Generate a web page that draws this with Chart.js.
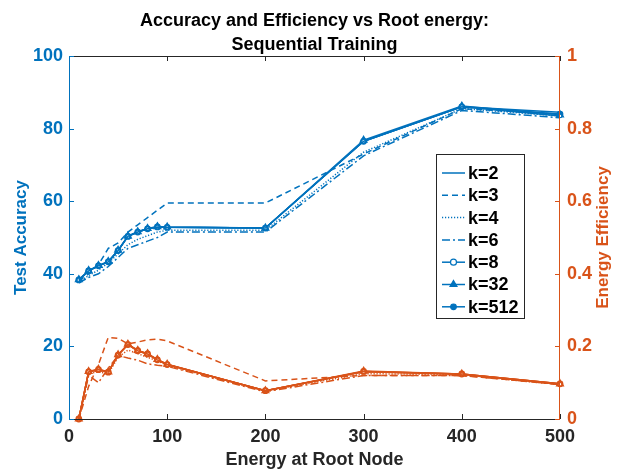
<!DOCTYPE html>
<html>
<head>
<meta charset="utf-8">
<script src="https://cdn.jsdelivr.net/npm/chart.js@4/dist/chart.umd.min.js"></script>
<style>
  html, body { margin: 0; padding: 0; background: #fff; }
  #wrap { width: 618px; height: 471px; position: relative; }
</style>
</head>
<body>
<div id="wrap"><canvas id="c" width="618" height="471"></canvas></div>
<script>
// ---------- data ----------
const energy = [10, 20, 30, 40, 50, 60, 70, 80, 90, 100, 200, 300, 400, 500];
const kLabels = ['k=2', 'k=3', 'k=4', 'k=6', 'k=8', 'k=32', 'k=512'];
const xTickValues = [0, 100, 200, 300, 400, 500];

// Test accuracy (left axis, %)
const accK2   = [38.3, 40.8, 42.2, 43.3, 46.4, 50.3, 51.5, 52.4, 52.9, 52.8, 52.6, 76.5, 86.0, 84.5];
const accK3   = [38.0, 40.0, 42.5, 47.0, 48.5, 51.5, 53.5, 55.5, 57.5, 59.5, 59.5, 73.0, 85.5, 84.0];
const accK4   = [37.8, 39.5, 41.0, 43.0, 45.5, 48.0, 49.5, 50.5, 51.5, 52.0, 52.0, 73.5, 85.5, 83.5];
const accK6   = [37.5, 39.0, 40.0, 42.0, 44.5, 47.0, 48.0, 49.0, 50.0, 51.5, 51.5, 72.5, 85.0, 83.0];
const accK8   = [38.3, 40.8, 42.2, 43.3, 46.4, 50.3, 51.5, 52.4, 52.9, 52.8, 52.6, 76.5, 86.0, 83.5];
const accK32  = [38.4, 40.9, 42.3, 43.4, 46.5, 50.4, 51.6, 52.5, 53.0, 52.9, 52.6, 76.8, 86.2, 83.8];
const accK512 = [38.3, 40.8, 42.2, 43.3, 46.4, 50.3, 51.5, 52.4, 52.9, 52.8, 52.6, 76.5, 86.0, 84.0];

// Energy efficiency (right axis)
const effK2   = [0, 0.130, 0.136, 0.129, 0.176, 0.205, 0.188, 0.179, 0.163, 0.150, 0.078, 0.131, 0.124, 0.097];
const effK3   = [0, 0.090, 0.150, 0.225, 0.222, 0.207, 0.212, 0.218, 0.220, 0.215, 0.105, 0.120, 0.120, 0.095];
const effK4   = [0, 0.125, 0.130, 0.125, 0.170, 0.190, 0.180, 0.170, 0.160, 0.148, 0.077, 0.125, 0.122, 0.095];
const effK6   = [0, 0.120, 0.100, 0.140, 0.175, 0.168, 0.162, 0.152, 0.148, 0.145, 0.075, 0.120, 0.120, 0.095];
const effK8   = [0, 0.130, 0.136, 0.129, 0.176, 0.205, 0.188, 0.179, 0.163, 0.150, 0.078, 0.130, 0.123, 0.096];
const effK32  = [0, 0.131, 0.137, 0.130, 0.177, 0.206, 0.189, 0.180, 0.164, 0.151, 0.078, 0.132, 0.124, 0.097];
const effK512 = [0, 0.130, 0.136, 0.129, 0.176, 0.205, 0.188, 0.179, 0.163, 0.150, 0.078, 0.131, 0.124, 0.097];

const accSeries = [accK2, accK3, accK4, accK6, accK8, accK32, accK512];
const effSeries = [effK2, effK3, effK4, effK6, effK8, effK32, effK512];

// ---------- styles ----------
const BLUE = '#0072BD';
const ORANGE = '#D95319';
const AXIS = '#262626';
const FONT = "'Liberation Sans', Arial, sans-serif";
const dashes = [[], [6, 4], [1.2, 1.8], [8, 3, 2, 3], [], [], []];
const pStyles = ['circle', 'circle', 'circle', 'circle', 'circle', 'triangle', 'circle'];
const pRadius = [0, 0, 0, 0, 1.8, 4, 2.8];
const legRadius = [0, 0, 0, 0, 3, 4, 2.8];
const pFilled = [false, false, false, false, false, true, true];

function toPts(arr) { return energy.map((e, i) => ({ x: e, y: arr[i] })); }

function makeSet(label, arr, i, color, axis) {
  return {
    label: label,
    data: toPts(arr),
    yAxisID: axis,
    borderColor: color,
    backgroundColor: color,
    borderWidth: 1.5,
    borderDash: dashes[i],
    pointStyle: pStyles[i],
    pointRadius: pRadius[i],
    pointHoverRadius: pRadius[i],
    pointBorderColor: color,
    pointBackgroundColor: pFilled[i] ? color : '#ffffff',
    pointBorderWidth: 1.2,
    tension: 0,
    fill: false,
    clip: false
  };
}

const datasets = [];
kLabels.forEach((k, i) => datasets.push(makeSet(k, accSeries[i], i, BLUE, 'y')));
kLabels.forEach((k, i) => datasets.push(makeSet(k, effSeries[i], i, ORANGE, 'y1')));

// ---------- plugin: title, axes box, inward ticks, legend ----------
const decor = {
  id: 'decor',
  afterDraw(chart) {
    const ctx = chart.ctx;
    const a = chart.chartArea;
    const xs = chart.scales.x, ys = chart.scales.y, y1 = chart.scales.y1;
    ctx.save();
    // title
    ctx.fillStyle = '#000';
    ctx.font = 'bold 18px ' + FONT;
    ctx.textAlign = 'center';
    ctx.textBaseline = 'middle';
    const cx = (a.left + a.right) / 2;
    ctx.fillText('Accuracy and Efficiency vs Root energy:', cx, 21);
    ctx.fillText('Sequential Training', cx, 45);

    // right axis title (reads bottom to top)
    ctx.save();
    ctx.translate(603, (a.top + a.bottom) / 2);
    ctx.rotate(-Math.PI / 2);
    ctx.fillStyle = ORANGE;
    ctx.font = 'bold 17px ' + FONT;
    ctx.fillText('Energy Efficiency', 0, 0);
    ctx.restore();

    // box
    ctx.lineWidth = 1;
    ctx.setLineDash([]);
    ctx.strokeStyle = AXIS;
    ctx.beginPath();
    ctx.moveTo(a.left, a.top + 0.5); ctx.lineTo(a.right, a.top + 0.5);
    ctx.moveTo(a.left, a.bottom + 0.5); ctx.lineTo(a.right, a.bottom + 0.5);
    xTickValues.forEach(v => {
      const px = Math.round(xs.getPixelForValue(v)) + 0.5;
      ctx.moveTo(px, a.bottom); ctx.lineTo(px, a.bottom - 5);
      ctx.moveTo(px, a.top); ctx.lineTo(px, a.top + 5);
    });
    ctx.stroke();

    ctx.strokeStyle = BLUE;
    ctx.beginPath();
    ctx.moveTo(a.left + 0.5, a.top); ctx.lineTo(a.left + 0.5, a.bottom + 1);
    ys.ticks.forEach(t => {
      const py = Math.round(ys.getPixelForValue(t.value)) + 0.5;
      ctx.moveTo(a.left, py); ctx.lineTo(a.left + 5, py);
    });
    ctx.stroke();

    ctx.strokeStyle = ORANGE;
    ctx.beginPath();
    ctx.moveTo(a.right - 0.5, a.top); ctx.lineTo(a.right - 0.5, a.bottom + 1);
    y1.ticks.forEach(t => {
      const py = Math.round(y1.getPixelForValue(t.value)) + 0.5;
      ctx.moveTo(a.right, py); ctx.lineTo(a.right - 5, py);
    });
    ctx.stroke();

    // legend
    const lx = 436, ly = 154, lw = 88, lh = 164;
    ctx.fillStyle = '#fff';
    ctx.fillRect(lx, ly, lw, lh);
    ctx.strokeStyle = AXIS;
    ctx.lineWidth = 1;
    ctx.strokeRect(lx + 0.5, ly + 0.5, lw, lh);
    kLabels.forEach((k, i) => {
      const yy = 173 + i * 22.3;
      ctx.strokeStyle = BLUE;
      ctx.lineWidth = 1.5;
      ctx.setLineDash(dashes[i]);
      ctx.beginPath();
      ctx.moveTo(442, yy); ctx.lineTo(465, yy);
      ctx.stroke();
      ctx.setLineDash([]);
      if (legRadius[i] > 0) {
        ctx.fillStyle = pFilled[i] ? BLUE : '#fff';
        ctx.lineWidth = 1.2;
        Chart.helpers.drawPoint(ctx, { pointStyle: pStyles[i], radius: legRadius[i], borderWidth: 1.2, rotation: 0 }, 453.5, yy);
      }
      ctx.fillStyle = '#000';
      ctx.font = 'bold 18px ' + FONT;
      ctx.textAlign = 'left';
      ctx.textBaseline = 'middle';
      ctx.fillText(k, 468, yy + 1);
    });
    ctx.restore();
  }
};

new Chart(document.getElementById('c'), {
  type: 'line',
  data: { datasets: datasets },
  options: {
    responsive: false,
    animation: false,
    events: [],
    layout: { padding: { top: 56, left: 0, right: 0, bottom: 0 } },
    plugins: { legend: { display: false }, tooltip: { enabled: false }, title: { display: false } },
    scales: {
      x: {
        type: 'linear', min: 0, max: 500,
        afterBuildTicks: s => { s.ticks = xTickValues.map(v => ({ value: v })); },
        ticks: { color: AXIS, font: { family: FONT, size: 18, weight: 'bold' }, padding: 7, maxRotation: 0 },
        grid: { display: false, drawTicks: false },
        border: { display: false },
        title: { display: true, text: 'Energy at Root Node', color: AXIS, font: { family: FONT, size: 18, weight: 'bold' }, padding: { top: 0, bottom: 0 } },
        afterFit: s => { s.height = 52; }
      },
      y: {
        position: 'left', min: 0, max: 100,
        ticks: { stepSize: 20, color: BLUE, font: { family: FONT, size: 18, weight: 'bold' }, padding: 6 },
        grid: { display: false, drawTicks: false },
        border: { display: false },
        title: { display: true, text: 'Test Accuracy', color: BLUE, font: { family: FONT, size: 17, weight: 'bold' }, padding: { top: 11, bottom: 0 } },
        afterFit: s => { s.width = 69; }
      },
      y1: {
        position: 'right', min: 0, max: 1,
        ticks: { stepSize: 0.2, color: ORANGE, font: { family: FONT, size: 18, weight: 'bold' }, padding: 7,
                 callback: v => (v === 0 ? '0' : (Math.abs(v - 1) < 1e-9 ? '1' : v.toFixed(1))) },
        grid: { display: false, drawTicks: false },
        border: { display: false },
        title: { display: false },
        afterFit: s => { s.width = 58; }
      }
    }
  },
  plugins: [decor]
});
</script>
</body>
</html>
